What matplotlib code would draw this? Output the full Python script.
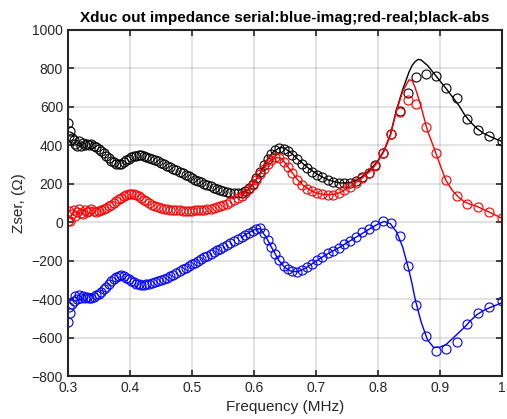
import matplotlib
matplotlib.use("Agg")
import matplotlib.pyplot as plt
import numpy as np

plt.rcParams['font.family'] = ['Liberation Sans', 'DejaVu Sans']

# measured points (MHz)
freq = [0.300, 0.302, 0.304, 0.306, 0.309, 0.312, 0.315, 0.318, 0.321, 0.324,
        0.327, 0.330, 0.334, 0.338, 0.342, 0.346, 0.350, 0.354, 0.358, 0.362,
        0.366, 0.370, 0.374, 0.378, 0.382, 0.386, 0.390, 0.394, 0.398, 0.402,
        0.406, 0.410, 0.414, 0.418, 0.422, 0.426, 0.430, 0.435, 0.440, 0.445,
        0.450, 0.455, 0.460, 0.465, 0.470, 0.475, 0.480, 0.485, 0.490, 0.495,
        0.500, 0.505, 0.510, 0.515, 0.520, 0.525, 0.530, 0.535, 0.540, 0.545,
        0.550, 0.556, 0.562, 0.568, 0.574, 0.580, 0.586, 0.592, 0.598, 0.604,
        0.610, 0.616, 0.622, 0.628, 0.634, 0.641, 0.648, 0.655, 0.662, 0.670,
        0.678, 0.686, 0.694, 0.702, 0.710, 0.719, 0.728, 0.737, 0.746, 0.755,
        0.765, 0.775, 0.785, 0.796, 0.808, 0.821, 0.835, 0.848, 0.862, 0.878,
        0.893, 0.909, 0.927, 0.943, 0.962, 0.979, 1.000]

z_abs = [518, 448, 475, 440, 425, 405, 395, 420, 398, 410,
         402, 408, 400, 405, 398, 390, 380, 370, 358, 345,
         332, 320, 312, 305, 302, 305, 312, 322, 330, 337,
         342, 346, 348, 347, 344, 340, 336, 330, 324, 318,
         310, 302, 294, 286, 278, 270, 262, 254, 246, 238,
         230, 222, 215, 207, 200, 193, 186, 180, 174, 168,
         163, 158, 154, 151, 150, 153, 162, 178, 200, 228,
         262, 298, 330, 357, 375, 384, 380, 368, 350, 328,
         305, 283, 263, 247, 233, 220, 211, 205, 202, 205,
         215, 235, 255, 295, 362, 460, 578, 672, 755, 771,
         761, 698, 646, 537, 480, 448, 422]

z_real = [5, 60, 8, 45, 65, 30, 55, 70, 50, 45,
          65, 55, 60, 70, 60, 55, 58, 62, 68, 75,
          83, 92, 102, 112, 120, 128, 135, 141, 145, 147,
          146, 142, 135, 126, 117, 108, 100, 92, 85, 79,
          74, 70, 67, 65, 63, 62, 61, 60, 60, 60,
          60, 61, 62, 63, 65, 67, 70, 74, 78, 83,
          89, 96, 104, 113, 124, 136, 152, 172, 196, 222,
          250, 278, 305, 326, 338, 333, 315, 285, 255, 222,
          195, 175, 160, 150, 145, 142, 142, 150, 165, 185,
          205, 230, 255, 292, 360, 459, 573, 636, 615, 495,
          360, 218, 136, 94, 80, 52, 20]

z_imag = [-518, -440, -470, -425, -410, -385, -400, -380, -395, -385,
          -395, -390, -392, -395, -388, -380, -372, -362, -350, -336,
          -322, -308, -295, -285, -279, -277, -282, -290, -298, -306,
          -313, -319, -323, -325, -325, -323, -320, -316, -312, -307,
          -302, -296, -289, -281, -273, -264, -255, -246, -237, -228,
          -219, -210, -201, -192, -183, -174, -165, -156, -147, -138,
          -129, -118, -108, -98, -88, -78, -67, -56, -45, -37,
          -32, -55, -92, -130, -165, -198, -228, -246, -256, -259,
          -248, -232, -215, -198, -180, -162, -150, -132, -115, -97,
          -78, -52, -35, -16, 4, -3, -74, -228, -431, -592,
          -668, -662, -625, -530, -473, -441, -412]

# fitted curves
fit_freq = [0.58, 0.59, 0.60, 0.61, 0.62, 0.63, 0.64, 0.645, 0.65, 0.66,
            0.67, 0.68, 0.69, 0.70, 0.71, 0.72, 0.73, 0.74, 0.75, 0.76,
            0.77, 0.78, 0.79, 0.80, 0.81, 0.82, 0.83, 0.84, 0.85, 0.855,
            0.86, 0.865, 0.87, 0.88, 0.89, 0.90, 0.91, 0.92, 0.93, 0.94,
            0.95, 0.96, 0.97, 0.98, 0.99, 1.00]

fit_abs = [152, 168, 205, 255, 318, 362, 385, 388, 384, 360,
           330, 302, 276, 254, 235, 220, 210, 204, 204, 210,
           225, 252, 282, 320, 375, 455, 585, 690, 780, 815,
           835, 847, 843, 815, 775, 735, 695, 652, 610, 558,
           518, 487, 463, 447, 433, 420]

fit_real = [135, 165, 205, 250, 298, 330, 337, 328, 310, 265,
            222, 190, 168, 153, 145, 142, 145, 155, 175, 198,
            218, 245, 272, 315, 370, 450, 580, 680, 740, 738,
            700, 650, 595, 475, 390, 300, 215, 165, 130, 105,
            92, 82, 66, 52, 36, 20]

fit_imag = [-78, -58, -40, -33, -80, -140, -198, -218, -236, -255,
            -258, -245, -225, -203, -182, -162, -145, -127, -107, -87,
            -68, -48, -28, -10, 4, -8, -50, -130, -250, -320,
            -400, -462, -522, -612, -652, -650, -636, -606, -576, -545,
            -510, -480, -460, -445, -432, -419]

fig = plt.figure(figsize=(5.07, 4.19), dpi=100)
ax = fig.add_axes([0.134, 0.1026, 0.856, 0.826])

for vals, fit, col in [(z_abs, fit_abs, 'k'), (z_real, fit_real, 'r'), (z_imag, fit_imag, 'b')]:
    ax.plot(freq, vals, 'o', mfc='none', mec=col, ms=6.5, mew=0.8)
    ax.plot(fit_freq, fit, '-', color=col, lw=1.0)

ax.set_xlim(0.3, 1.0)
ax.set_ylim(-800, 1000)
ax.set_xticks(np.arange(0.3, 1.01, 0.1))
ax.set_xticklabels(['0.3', '0.4', '0.5', '0.6', '0.7', '0.8', '0.9', '1'])
ax.set_yticks(np.arange(-800, 1001, 200))
ax.grid(True, color='#262626', alpha=0.15, lw=1.2)
ax.set_axisbelow(True)
ax.tick_params(direction='in', top=True, right=True, length=4, width=1.2,
               labelsize=10, colors='#262626')
for s in ax.spines.values():
    s.set_linewidth(1.5)
    s.set_color('#262626')

ax.set_xlabel('Frequency (MHz)', fontsize=11, color='#262626')
ax.set_ylabel('Zser, (\u03a9)', fontsize=11, color='#262626')
ax.set_title('Xduc out impedance serial:blue-imag;red-real;black-abs',
             fontsize=11, fontweight='bold', pad=6)

fig.savefig('out.png', dpi=100)
